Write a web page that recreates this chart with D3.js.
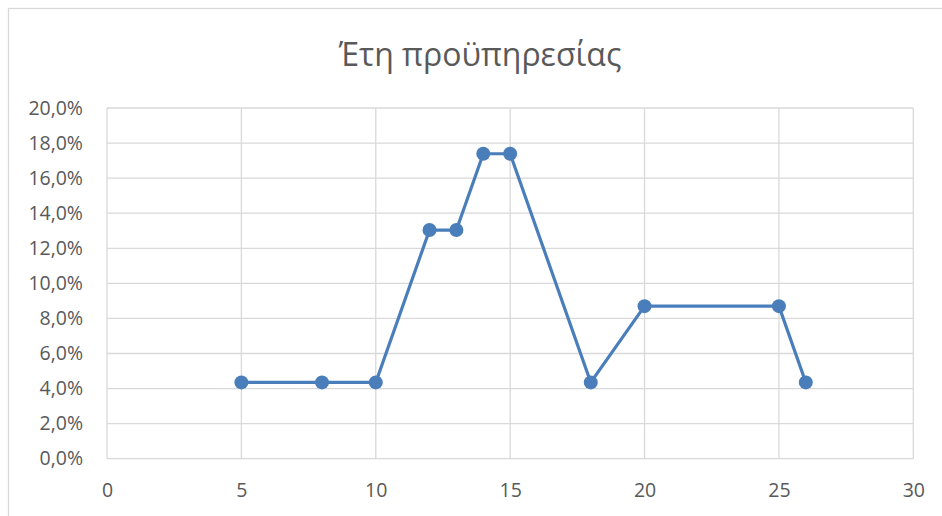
<!DOCTYPE html>
<html><head><meta charset="utf-8">
<script src="https://cdn.jsdelivr.net/npm/d3@7"></script>
<style>body{margin:0;background:#fff}svg{display:block}</style>
</head><body>
<svg id="c" width="942" height="516"></svg>
<script>
const title = "Έτη προϋπηρεσίας";
const years = [5, 8, 10, 12, 13, 14, 15, 18, 20, 25, 26];
const shares = [0.0435, 0.0435, 0.0435, 0.1304, 0.1304, 0.1739, 0.1739, 0.0435, 0.087, 0.087, 0.0435];
const xTicks = [0, 5, 10, 15, 20, 25, 30];
const yTicks = [0, 0.02, 0.04, 0.06, 0.08, 0.10, 0.12, 0.14, 0.16, 0.18, 0.20];

const svg = d3.select("#c");
const W = 942, H = 516;
const m = {left: 107, right: 942 - 913.3, top: 108, bottom: 516 - 458.7};
const font = "'Open Sans', Calibri, sans-serif";

// outer chart border
svg.append("rect").attr("x", 8.5).attr("y", 8.5).attr("width", 960).attr("height", 560)
  .attr("fill", "#fff").attr("stroke", "#d9d9d9").attr("stroke-width", 1.3);

const x = d3.scaleLinear().domain([0, 30]).range([m.left, W - m.right]);
const y = d3.scaleLinear().domain([0, 0.2]).range([H - m.bottom, m.top]);

// gridlines
svg.append("g").selectAll("line.h").data(yTicks).join("line")
  .attr("x1", x(0)).attr("x2", x(30)).attr("y1", d => y(d)).attr("y2", d => y(d))
  .attr("stroke", "#d9d9d9").attr("stroke-width", 1.3);
svg.append("g").selectAll("line.v").data(xTicks).join("line")
  .attr("y1", y(0)).attr("y2", y(0.2)).attr("x1", d => x(d)).attr("x2", d => x(d))
  .attr("stroke", "#d9d9d9").attr("stroke-width", 1.3);

// axes labels via d3 axes
const fmt = d => d3.format(".1f")(d * 100).replace(".", ",") + "%";
const yAxis = svg.append("g").attr("transform", `translate(${x(0)},0)`)
  .call(d3.axisLeft(y).tickValues(yTicks).tickFormat(fmt).tickSize(0).tickPadding(24));
const xAxis = svg.append("g").attr("transform", `translate(0,${y(0)})`)
  .call(d3.axisBottom(x).tickValues(xTicks).tickSize(0).tickPadding(24));
[yAxis, xAxis].forEach(a => {
  a.select(".domain").remove();
  a.selectAll("text").attr("fill", "#595959").style("font-family", font).style("font-size", "19.5px");
});

// title
svg.append("text").attr("x", 480).attr("y", 66).attr("text-anchor", "middle")
  .attr("fill", "#595959").style("font-family", font).style("font-size", "32px").text(title);

// line
const pts = years.map((v, i) => [v, shares[i]]);
svg.append("path").datum(pts)
  .attr("d", d3.line().x(d => x(d[0])).y(d => y(d[1])))
  .attr("fill", "none").attr("stroke", "#4a7ebb").attr("stroke-width", 3.2)
  .attr("stroke-linejoin", "round");
svg.append("g").selectAll("circle").data(pts).join("circle")
  .attr("cx", d => x(d[0])).attr("cy", d => y(d[1])).attr("r", 7)
  .attr("fill", "#4a7ebb");
</script>
</body></html>
